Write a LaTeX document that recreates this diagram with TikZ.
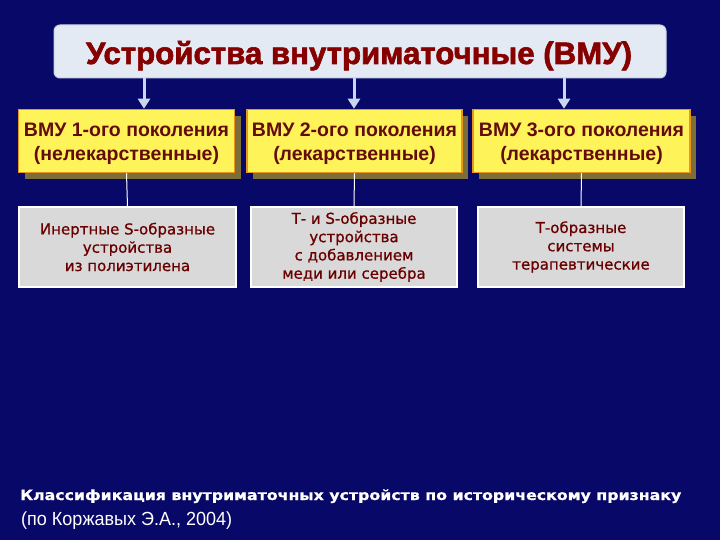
\documentclass[tikz,border=0pt]{standalone}
\usepackage{fontspec}
\setmainfont{Liberation Sans}
\newfontfamily\dejavu[FakeBold=0.8]{DejaVu Sans}
\newfontfamily\heavyfont[BoldFeatures={FakeBold=2}]{Liberation Sans}
\usetikzlibrary{arrows.meta,shadows}
\newcommand\genlines[2]{\raisebox{-3pt}[\height][\depth]{\begin{tabular}{@{}c@{}}#1\\#2\end{tabular}}}
\definecolor{bgnavy}{RGB}{8,8,104}
\definecolor{titlefill}{RGB}{228,234,243}
\definecolor{titleedge}{RGB}{200,210,228}
\definecolor{titlered}{RGB}{135,0,0}
\definecolor{yelfill}{RGB}{255,243,90}
\definecolor{yeledge}{RGB}{232,150,30}
\definecolor{yelshadow}{RGB}{125,110,55}
\definecolor{yeltext}{RGB}{100,12,12}
\definecolor{grayfill}{RGB}{217,217,217}
\definecolor{graytext}{RGB}{105,0,0}
\definecolor{arrowblue}{RGB}{200,215,240}
\tikzset{
  titlebox/.style={draw=titleedge, line width=1pt, fill=titlefill, rounded corners=6pt,
    minimum width=612pt, minimum height=53pt, inner sep=0pt},
  genbox/.style={draw=yeledge, line width=1.5pt, fill=yelfill, minimum height=63pt,
    inner sep=0pt, text=yeltext,
    font=\fontsize{19.5}{23.5}\selectfont\bfseries,
    drop shadow={shadow xshift=6pt, shadow yshift=-7pt, fill=yelshadow, opacity=1}},
  kindbox/.style={draw=white, line width=1.2pt, fill=grayfill, minimum height=80pt,
    inner sep=0pt, align=center, text=graytext,
    font=\dejavu\fontsize{15}{18.3}\selectfont},
  downarrow/.style={draw=arrowblue, line width=3pt, -{Triangle[width=12pt,length=10pt]}},
  linkline/.style={draw=white, line width=1pt},
  foot/.style={anchor=base west, inner sep=0pt, text=white}
}
\begin{document}
\begin{tikzpicture}[x=1pt,y=-1pt]
\fill[bgnavy] (0,0) rectangle (720,540);
\useasboundingbox (0,0) rectangle (720,540);
\node[titlebox] (title) at (360,51.5) {};
\node[text=titlered, inner sep=0pt, anchor=base] (titletext) at (359,64)
  {\resizebox{546pt}{\height}{\heavyfont\fontsize{31}{34}\selectfont\bfseries Устройства внутриматочные (ВМУ)}};
\node[genbox, minimum width=216pt] (g1) at (126.5,141) {\genlines{ВМУ 1-ого поколения}{(нелекарственные)}};
\node[genbox, minimum width=215pt] (g2) at (354.5,141) {\genlines{ВМУ 2-ого поколения}{(лекарственные)}};
\node[genbox, minimum width=217pt] (g3) at (581.5,141) {\genlines{ВМУ 3-ого поколения}{(лекарственные)}};
\node[kindbox, minimum width=217pt] (k1) at (127.5,247) {Инертные S-образные\\устройства\\из полиэтилена};
\node[kindbox, minimum width=206pt] (k2) at (354,247) {Т- и S-образные\\устройства\\с добавлением\\меди или серебра};
\node[kindbox, minimum width=206pt] (k3) at (581,247) {Т-образные\\системы\\терапевтические};
\coordinate (a1) at (144,78);
\coordinate (a2) at (354,78);
\coordinate (a3) at (564,78);
\draw[downarrow] (a1) -- (a1 |- g1.north);
\draw[downarrow] (a2) -- (a2 |- g2.north);
\draw[downarrow] (a3) -- (a3 |- g3.north);
\draw[linkline] (g1.south) -- (k1.north);
\draw[linkline] (g2.south) -- (k2.north);
\draw[linkline] (g3.south) -- (k3.north);
\node[foot] (cap1) at (20,500)
  {\resizebox{661pt}{\height}{\dejavu\fontsize{14}{17}\selectfont\bfseries Классификация внутриматочных устройств по историческому признаку}};
\node[foot] (cap2) at (21,525)
  {\resizebox{211pt}{\height}{\fontsize{19}{21}\selectfont (по Коржавых Э.А., 2004)}};
\end{tikzpicture}
\end{document}
